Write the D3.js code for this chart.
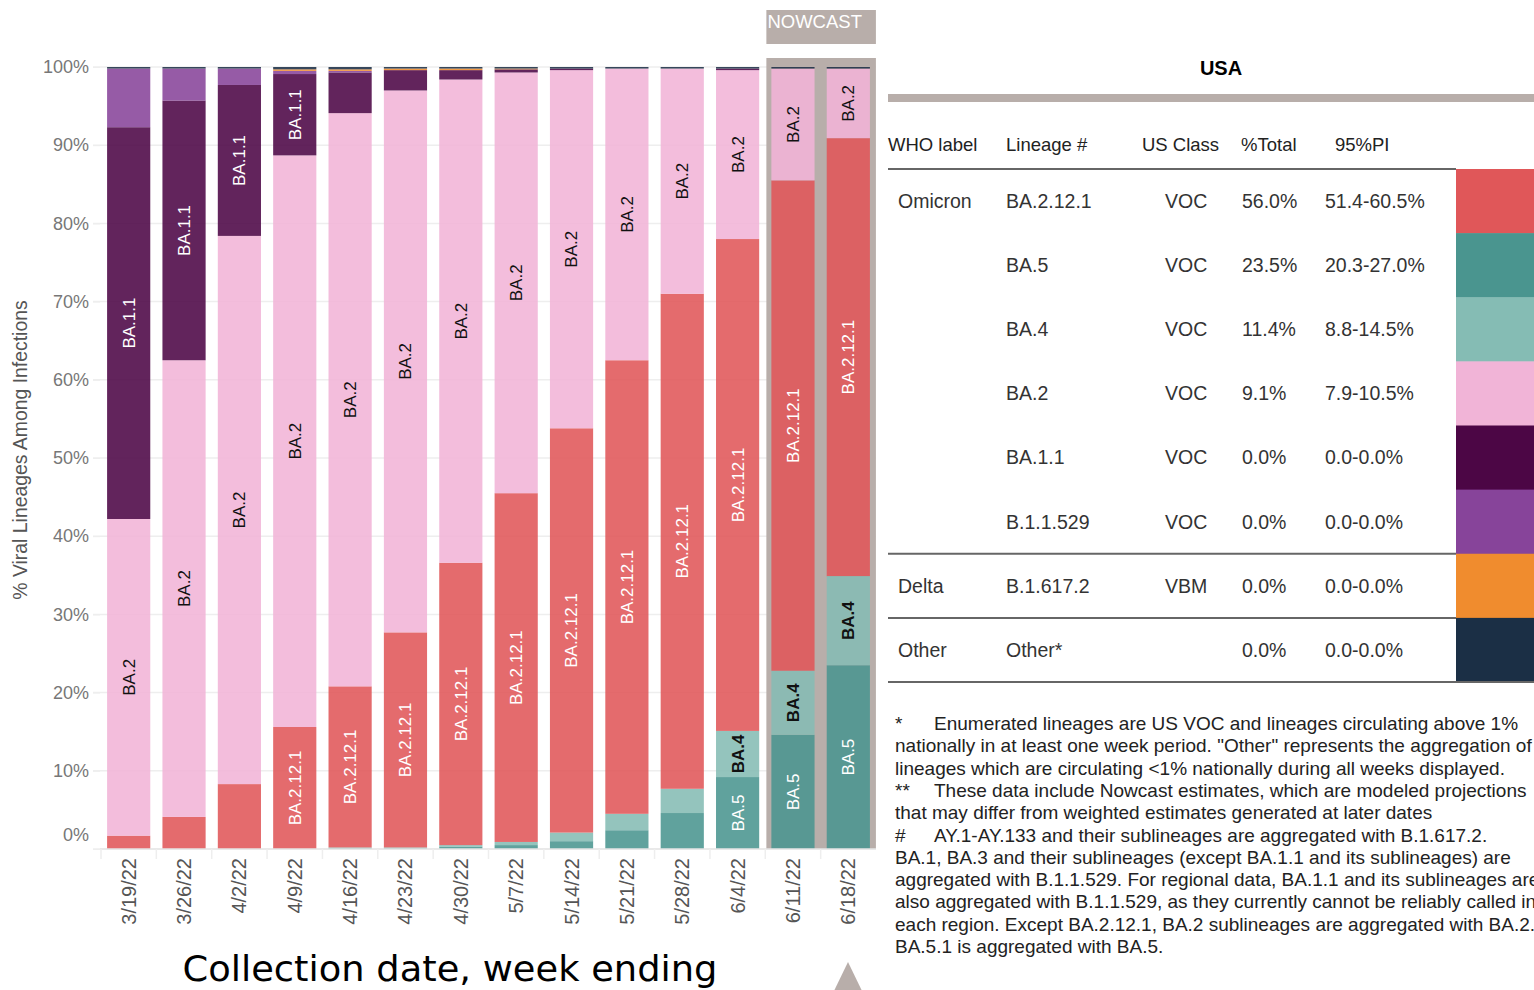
<!DOCTYPE html>
<html>
<head>
<meta charset="utf-8">
<script src="https://cdn.jsdelivr.net/npm/d3@7"></script>
<style>
body { margin: 0; background: #fff; }
svg { display: block; font-family: "Liberation Sans", Arial, sans-serif; }
</style>
</head>
<body>
<svg id="chart" width="1534" height="990"></svg>
<script>

// weeks and lineage shares (% of infections)
var weeks = ["3/19/22", "3/26/22", "4/2/22", "4/9/22", "4/16/22", "4/23/22", "4/30/22",
	"5/7/22", "5/14/22", "5/21/22", "5/28/22", "6/4/22", "6/11/22", "6/18/22"];
var nowcastWeeks = ["6/11/22", "6/18/22"];

var lineages = ["BA.5", "BA.4", "BA.2.12.1", "BA.2", "BA.1.1", "B.1.1.529", "B.1.617.2", "Other"];
var colors = ["#4a958f", "#85bcb4", "#e05759", "#f1b4d7", "#4c0645", "#87449a", "#f08c2e", "#1b2f45"];

var ba5 =     [0, 0, 0, 0, 0.1, 0.1, 0.3, 0.5, 1.0, 2.4, 4.6, 9.2, 14.6, 23.5];
var ba4 =     [0, 0, 0, 0, 0.1, 0.1, 0.2, 0.4, 1.1, 2.1, 3.1, 5.9, 8.2, 11.4];
var ba2121 =  [1.7, 4.1, 8.3, 15.6, 20.6, 27.5, 36.1, 44.6, 51.7, 58.0, 63.3, 62.9, 62.7, 56.0];
var ba2 =     [40.5, 58.4, 70.1, 73.1, 73.3, 69.3, 61.8, 53.8, 45.8, 37.3, 28.8, 21.6, 14.3, 8.9];
var ba11 =    [50.1, 33.2, 19.3, 10.4, 5.2, 2.6, 1.2, 0.4, 0.2, 0, 0, 0.2, 0, 0];
var b11529 =  [7.5, 4.1, 2.1, 0.4, 0.2, 0, 0, 0, 0, 0, 0, 0, 0, 0];
var delta =   [0, 0, 0, 0.2, 0.2, 0.2, 0.2, 0.1, 0, 0, 0, 0, 0, 0];
var other =   [0.2, 0.2, 0.2, 0.3, 0.3, 0.2, 0.2, 0.2, 0.2, 0.2, 0.2, 0.2, 0.2, 0.2];

var seriesValues = [ba5, ba4, ba2121, ba2, ba11, b11529, delta, other];
var labelled = ["BA.5", "BA.4", "BA.2.12.1", "BA.2", "BA.1.1"];
var darkText = ["BA.4", "BA.2"];

var yTicks = [0, 10, 20, 30, 40, 50, 60, 70, 80, 90, 100];

// legend table
var tableHeader = ["WHO label", "Lineage #", "US Class", "%Total", "95%PI"];
var tableWho = ["Omicron", "", "", "", "", "", "Delta", "Other"];
var tableLineage = ["BA.2.12.1", "BA.5", "BA.4", "BA.2", "BA.1.1", "B.1.1.529", "B.1.617.2", "Other*"];
var tableClass = ["VOC", "VOC", "VOC", "VOC", "VOC", "VOC", "VBM", ""];
var tableTotal = ["56.0%", "23.5%", "11.4%", "9.1%", "0.0%", "0.0%", "0.0%", "0.0%"];
var tablePI = ["51.4-60.5%", "20.3-27.0%", "8.8-14.5%", "7.9-10.5%", "0.0-0.0%", "0.0-0.0%", "0.0-0.0%", "0.0-0.0%"];
var tableSwatch = ["#e05759", "#4a958f", "#85bcb4", "#f1b4d7", "#4c0645", "#87449a", "#f08c2e", "#1b2f45"];

var footnotes = [
	["*", "Enumerated lineages are US VOC and lineages circulating above 1%"],
	["", "nationally in at least one week period. \"Other\" represents the aggregation of"],
	["", "lineages which are circulating <1% nationally during all weeks displayed."],
	["**", "These data include Nowcast estimates, which are modeled projections"],
	["", "that may differ from weighted estimates generated at later dates"],
	["#", "AY.1-AY.133 and their sublineages are aggregated with B.1.617.2."],
	["", "BA.1, BA.3 and their sublineages (except BA.1.1 and its sublineages) are"],
	["", "aggregated with B.1.1.529. For regional data, BA.1.1 and its sublineages are"],
	["", "also aggregated with B.1.1.529, as they currently cannot be reliably called in"],
	["", "each region. Except BA.2.12.1, BA.2 sublineages are aggregated with BA.2."],
	["", "BA.5.1 is aggregated with BA.5."]
];


function drawChart()
{
	var svg = d3.select("#chart");

	var x = d3.scaleBand().domain(weeks).range([101, 876]).paddingInner(0.22).paddingOuter(0.11);
	var y = d3.scaleLinear().domain([0, 100]).range([849, 67]);

	var rows = weeks.map(function(w, i)
	{
		var r = { week: w };
		lineages.forEach(function(l, j) { r[l] = seriesValues[j][i]; });
		return r;
	});

	var stacked = d3.stack().keys(lineages)(rows);

	// grid
	svg.append("g")
		.selectAll("line")
		.data(yTicks)
		.enter()
		.append("line")
		.attr("x1", 93).attr("x2", 876)
		.attr("y1", function(d) { return y(d); })
		.attr("y2", function(d) { return y(d); })
		.attr("stroke", "#eeeeee")
		.attr("stroke-width", 1.5);

	// nowcast background
	var nx0 = x(nowcastWeeks[0]) - 5;
	var nx1 = x(nowcastWeeks[nowcastWeeks.length - 1]) + x.bandwidth() + 6;
	svg.append("rect")
		.attr("x", nx0).attr("y", 58)
		.attr("width", nx1 - nx0).attr("height", 849 - 58)
		.attr("fill", "#b8aeaa");
	svg.append("rect")
		.attr("x", nx0).attr("y", 10)
		.attr("width", nx1 - nx0).attr("height", 34)
		.attr("fill", "#b8aeaa");
	svg.append("text")
		.attr("x", nx0 + 1).attr("y", 28)
		.attr("fill", "#fff")
		.style("font-size", "18.5px")
		.text("NOWCAST");

	// y axis
	var yAxis = svg.append("g")
		.attr("transform", "translate(100,0)")
		.call(d3.axisLeft(y).tickValues(yTicks).tickSize(7).tickPadding(4)
			.tickFormat(function(d) { return d + "%"; }));
	yAxis.select(".domain").remove();
	yAxis.selectAll(".tick line").attr("stroke", "#eeeeee");
	yAxis.selectAll(".tick text")
		.attr("fill", "#777")
		.style("font-size", "18px")
		.attr("dy", function(d) { return d === 0 ? "-0.45em" : "0.32em"; });

	// bars
	var layer = svg.append("g")
		.selectAll("g")
		.data(stacked)
		.enter()
		.append("g")
		.attr("fill", function(d, i) { return colors[i]; })
		.attr("fill-opacity", 0.88);

	layer.selectAll("rect")
		.data(function(d) { return d; })
		.enter()
		.append("rect")
		.attr("x", function(d) { return x(d.data.week); })
		.attr("width", x.bandwidth())
		.attr("y", function(d) { return y(d[1]); })
		.attr("height", function(d) { return y(d[0]) - y(d[1]); });

	// segment labels
	var labels = svg.append("g");
	stacked.forEach(function(s)
	{
		if(labelled.indexOf(s.key) < 0) return;
		s.forEach(function(d)
		{
			var h = y(d[0]) - y(d[1]);
			var cx = x(d.data.week) + x.bandwidth() / 2;
			var cy = (y(d[0]) + y(d[1])) / 2;
			var dark = darkText.indexOf(s.key) >= 0;
			var t = labels.append("text")
				.attr("transform", "translate(" + cx + "," + cy + ") rotate(-90)")
				.attr("text-anchor", "middle")
				.attr("dy", "0.35em")
				.attr("fill", dark ? "#111" : "#fff")
				.style("font-size", "17px")
				.style("font-weight", s.key === "BA.4" ? "bold" : "normal")
				.text(s.key);
			if(t.node().getComputedTextLength() + 4 > h) t.remove();
		});
	});

	// x axis
	var xAxis = svg.append("g")
		.attr("transform", "translate(0,849)")
		.call(d3.axisBottom(x).tickSize(0).tickPadding(10));
	xAxis.select(".domain").attr("stroke", "#e6e6e6").attr("stroke-width", 1.5)
		.attr("d", "M100,0H876");
	xAxis.selectAll(".tick text")
		.attr("transform", "rotate(-90)")
		.attr("text-anchor", "end")
		.attr("x", -9).attr("y", 0)
		.attr("dy", "0.35em")
		.attr("fill", "#555")
		.style("font-size", "20px");
	xAxis.selectAll(".sep")
		.data(weeks)
		.enter()
		.append("line")
		.attr("x1", function(d) { return x(d) - x.step() * x.paddingInner() / 2; })
		.attr("x2", function(d) { return x(d) - x.step() * x.paddingInner() / 2; })
		.attr("y1", 0).attr("y2", 10)
		.attr("stroke", "#eeeeee")
		.attr("stroke-width", 1.5);

	svg.append("text")
		.attr("transform", "translate(27,450) rotate(-90)")
		.attr("text-anchor", "middle")
		.attr("fill", "#555")
		.style("font-size", "19.4px")
		.text("% Viral Lineages Among Infections");

	svg.append("text")
		.attr("x", 450).attr("y", 981)
		.attr("text-anchor", "middle")
		.attr("fill", "#000")
		.style("font-family", "'DejaVu Sans', Verdana, sans-serif")
		.style("font-size", "36px")
		.attr("textLength", 535)
		.attr("lengthAdjust", "spacingAndGlyphs")
		.text("Collection date, week ending");

	svg.append("path")
		.attr("d", "M848,962L833,993L863,993Z")
		.attr("fill", "#b8aeaa");
}

function drawTable()
{
	var svg = d3.select("#chart");
	var g = svg.append("g").style("font-size", "19.5px");

	g.append("text")
		.attr("x", 1221).attr("y", 75)
		.attr("text-anchor", "middle")
		.style("font-weight", "bold").style("font-size", "20px")
		.attr("fill", "#000")
		.text("USA");

	g.append("rect")
		.attr("x", 888).attr("y", 94).attr("width", 646).attr("height", 8)
		.attr("fill", "#b8aeaa");

	var hx = [888, 1006, 1142, 1241, 1335];
	g.selectAll(".hdr")
		.data(tableHeader)
		.enter()
		.append("text")
		.attr("x", function(d, i) { return hx[i]; })
		.attr("y", 151)
		.attr("fill", "#222")
		.style("font-size", "18.5px")
		.text(function(d) { return d; });

	var rowY = d3.scaleBand().domain(d3.range(tableLineage.length)).range([169, 682]);

	g.selectAll(".sw")
		.data(tableSwatch)
		.enter()
		.append("rect")
		.attr("x", 1456).attr("width", 78)
		.attr("y", function(d, i) { return rowY(i); })
		.attr("height", rowY.bandwidth() + 0.5)
		.attr("fill", function(d) { return d; });

	var cols = [
		{ v: tableWho, x: 898 },
		{ v: tableLineage, x: 1006 },
		{ v: tableClass, x: 1165 },
		{ v: tableTotal, x: 1242 },
		{ v: tablePI, x: 1325 }
	];
	cols.forEach(function(c)
	{
		g.append("g")
			.selectAll("text")
			.data(c.v)
			.enter()
			.append("text")
			.attr("x", c.x)
			.attr("y", function(d, i) { return rowY(i) + rowY.bandwidth() / 2; })
			.attr("dy", "0.35em")
			.attr("fill", "#333")
			.text(function(d) { return d; });
	});

	// rule lines
	var rules = [
		{ y: 169, x2: 1456 },
		{ y: rowY(6), x2: 1456 },
		{ y: rowY(7), x2: 1456 },
		{ y: 682, x2: 1534 }
	];
	g.selectAll(".rule")
		.data(rules)
		.enter()
		.append("line")
		.attr("x1", 888).attr("x2", function(d) { return d.x2; })
		.attr("y1", function(d) { return d.y; })
		.attr("y2", function(d) { return d.y; })
		.attr("stroke", "#666")
		.attr("stroke-width", 2);

	// footnotes
	var fn = svg.append("g").style("font-size", "19px").attr("fill", "#222");
	footnotes.forEach(function(f, i)
	{
		var yy = 730 + i * 22.3;
		if(f[0] !== "")
		{
			fn.append("text").attr("x", 895).attr("y", yy).text(f[0]);
			fn.append("text").attr("x", 934).attr("y", yy).text(f[1]);
		}
		else
		{
			fn.append("text").attr("x", 895).attr("y", yy).text(f[1]);
		}
	});
}

drawChart();
drawTable();

</script>
</body>
</html>
